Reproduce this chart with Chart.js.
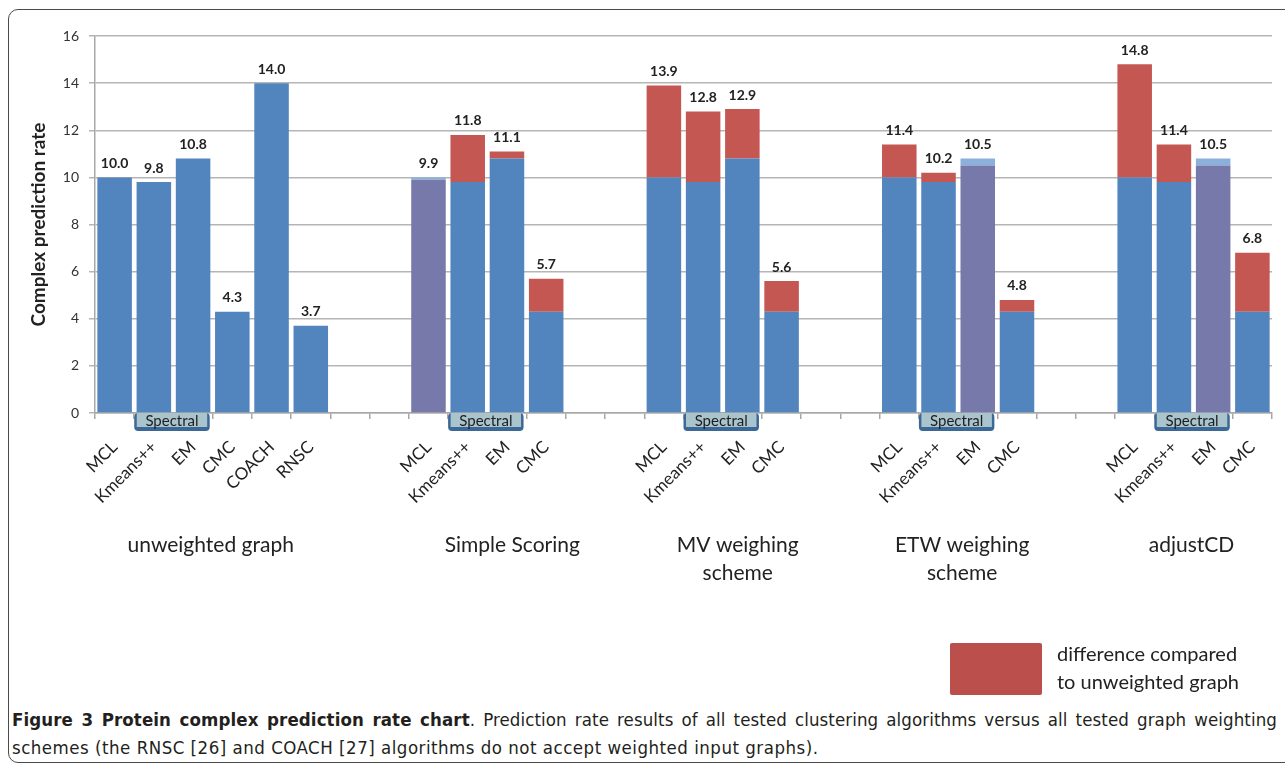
<!DOCTYPE html>
<html>
<head>
<meta charset="utf-8">
<script src="https://cdn.jsdelivr.net/npm/chart.js@4.4.1/dist/chart.umd.min.js"></script>
<style>
    body { margin: 0; background: #fff; width: 1285px; height: 767px; overflow: hidden; position: relative; }
    #moldura { position: absolute; left: 8px; top: 9px; width: 1300px; height: 752px; border: 1.5px solid #4a4a4a; border-radius: 10px; }
    #grafico { position: absolute; left: 0; top: 0; width: 1285px; height: 705px; }
    .legenda { position: absolute; left: 12px; width: 1265px; font-family: "Liberation Sans Narrow", "DejaVu Sans Condensed", sans-serif; font-stretch: condensed; font-size: 18.5px; color: #231f20; white-space: nowrap; }
    #linha1 { top: 709px; text-align: justify; text-align-last: justify; letter-spacing: 0.1px; }
    #linha2 { top: 737px; letter-spacing: 0.5px; }
</style>
</head>
<body>
<div id="moldura"></div>
<div id="grafico"><canvas id="canvasTaxa"></canvas></div>
<div class="legenda" id="linha1"><b>Figure 3 Protein complex prediction rate chart</b>. Prediction rate results of all tested clustering algorithms versus all tested graph weighting</div>
<div class="legenda" id="linha2">schemes (the RNSC [26] and COACH [27] algorithms do not accept weighted input graphs).</div>

<script>
// DADOS DO GRÁFICO
const algoritmos = [
    'MCL', 'Kmeans++', 'EM', 'CMC', 'COACH', 'RNSC', '', '',
    'MCL', 'Kmeans++', 'EM', 'CMC', '', '',
    'MCL', 'Kmeans++', 'EM', 'CMC', '', '',
    'MCL', 'Kmeans++', 'EM', 'CMC', '', '',
    'MCL', 'Kmeans++', 'EM', 'CMC'
];
// parte azul = taxa no grafo sem peso
const baseAzul = [
    10.0, 9.8, 10.8, 4.3, 14.0, 3.7, null, null,
    null, 9.8, 10.8, 4.3, null, null,
    10.0, 9.8, 10.8, 4.3, null, null,
    10.0, 9.8, null, 4.3, null, null,
    10.0, 9.8, null, 4.3
];
// parte roxa = taxa com peso quando menor que a sem peso
const menorRoxo = [
    null, null, null, null, null, null, null, null,
    9.9, null, null, null, null, null,
    null, null, null, null, null, null,
    null, null, 10.5, null, null, null,
    null, null, 10.5, null
];
// topo azul claro = perda em relação ao grafo sem peso
const perdaAzulClaro = [
    null, null, null, null, null, null, null, null,
    0.1, null, null, null, null, null,
    null, null, null, null, null, null,
    null, null, 0.3, null, null, null,
    null, null, 0.3, null
];
// parte vermelha = ganho em relação ao grafo sem peso
const ganhoVermelho = [
    null, null, null, null, null, null, null, null,
    null, 2.0, 0.3, 1.4, null, null,
    3.9, 3.0, 2.1, 1.3, null, null,
    1.4, 0.4, null, 0.5, null, null,
    4.8, 1.6, null, 2.5
];
const rotulosValor = [
    '10.0', '9.8', '10.8', '4.3', '14.0', '3.7', '', '',
    '9.9', '11.8', '11.1', '5.7', '', '',
    '13.9', '12.8', '12.9', '5.6', '', '',
    '11.4', '10.2', '10.5', '4.8', '', '',
    '14.8', '11.4', '10.5', '6.8'
];
const ticksY = [0, 2, 4, 6, 8, 10, 12, 14, 16];
const nomesGrupos = ['unweighted graph', 'Simple Scoring', ['MV weighing', 'scheme'], ['ETW weighing', 'scheme'], 'adjustCD'];
const inicioGrupos = [0, 8, 14, 20, 26];
const fimGrupos = [5, 11, 17, 23, 29];
const spectralInicio = [1, 9, 15, 21, 27];
const spectralFim = [2, 10, 16, 22, 28];
const textoLegenda = ['difference compared', 'to unweighted graph'];

const FONTE = 'Lato, "Open Sans", sans-serif';
const COR_TEXTO = '#222';

// Rótulos acima das barras
const pluginRotulos = {
    id: 'rotulos',
    afterDatasetsDraw(chart) {
        const ctx = chart.ctx;
        const x = chart.scales.x, y = chart.scales.y;
        ctx.save();
        ctx.font = `bold 14px ${FONTE}`;
        ctx.fillStyle = COR_TEXTO;
        ctx.textAlign = 'center';
        ctx.textBaseline = 'bottom';
        rotulosValor.forEach((txt, i) => {
            if (!txt) return;
            let soma = 0;
            chart.data.datasets.forEach(ds => { soma += ds.data[i] || 0; });
            ctx.fillText(txt, x.getPixelForValue(i), y.getPixelForValue(soma) - 7);
        });
        ctx.restore();
    }
};

// Caixas "Spectral", nomes dos grupos e legenda
const pluginExtras = {
    id: 'extras',
    afterDraw(chart) {
        const ctx = chart.ctx;
        const x = chart.scales.x;
        const area = chart.chartArea;
        const passo = x.getPixelForValue(1) - x.getPixelForValue(0);
        ctx.save();

        spectralInicio.forEach((ini, k) => {
            const esq = x.getPixelForValue(ini) - passo / 2;
            const dir = x.getPixelForValue(spectralFim[k]) + passo / 2 - 3;
            const topo = area.bottom;
            ctx.fillStyle = '#3b6897';
            ctx.beginPath();
            ctx.roundRect(esq, topo, dir - esq, 18, 4);
            ctx.fill();
            ctx.fillStyle = '#a9c4cd';
            ctx.fillRect(esq + 2.5, topo, dir - esq - 5, 14);
            ctx.fillStyle = '#1d1d1d';
            ctx.font = `15px ${FONTE}`;
            ctx.textAlign = 'center';
            ctx.textBaseline = 'middle';
            ctx.fillText('Spectral', (esq + dir) / 2, topo + 8);
        });

        const ajusteGrupo = [-2, 25, 15, 4, -2];
        ctx.font = `21px ${FONTE}`;
        ctx.fillStyle = COR_TEXTO;
        ctx.textAlign = 'center';
        ctx.textBaseline = 'middle';
        nomesGrupos.forEach((nome, g) => {
            const cx = (x.getPixelForValue(inicioGrupos[g]) + x.getPixelForValue(fimGrupos[g])) / 2 + ajusteGrupo[g];
            const linhas = Array.isArray(nome) ? nome : [nome];
            linhas.forEach((l, j) => ctx.fillText(l, cx, area.bottom + 132 + j * 28));
        });

        // legenda manual
        const lx = chart.width - 335, ly = area.bottom + 230;
        ctx.fillStyle = '#bb4f4c';
        ctx.beginPath();
        ctx.roundRect(lx, ly, 92, 52, 2);
        ctx.fill();
        ctx.fillStyle = COR_TEXTO;
        ctx.font = `20px ${FONTE}`;
        ctx.textAlign = 'left';
        textoLegenda.forEach((l, j) => ctx.fillText(l, lx + 107, ly + 12 + j * 28));
        ctx.restore();
    }
};

document.addEventListener("DOMContentLoaded", () => {
    const ctx = document.getElementById('canvasTaxa').getContext('2d');
    new Chart(ctx, {
        type: 'bar',
        data: {
            labels: algoritmos,
            datasets: [
                { label: 'weighted (lower)', data: menorRoxo, backgroundColor: '#7679a9' },
                { label: 'unweighted graph', data: baseAzul, backgroundColor: '#5284be' },
                { label: 'loss', data: perdaAzulClaro, backgroundColor: '#8cb0dc' },
                { label: 'difference compared to unweighted graph', data: ganhoVermelho, backgroundColor: '#c55753' }
            ]
        },
        options: {
            responsive: true,
            maintainAspectRatio: false,
            animation: false,
            devicePixelRatio: 1,
            layout: { padding: { left: 0, right: 11, top: 36, bottom: 0 } },
            datasets: { bar: { barPercentage: 0.88, categoryPercentage: 1.0 } },
            plugins: {
                legend: { display: false },
                tooltip: { enabled: false }
            },
            scales: {
                x: {
                    stacked: true,
                    afterFit: s => { s.height = 292; },
                    grid: { drawOnChartArea: false, offset: true, tickLength: 6, color: '#a8a8a8', lineWidth: 1.5 },
                    border: { color: '#a8a8a8', width: 1.5 },
                    ticks: {
                        autoSkip: false, maxRotation: 45, minRotation: 45, padding: 18,
                        color: COR_TEXTO, font: { family: FONTE, size: 17 }
                    }
                },
                y: {
                    stacked: true,
                    min: 0, max: 16,
                    afterFit: s => { s.width = 95; },
                    afterBuildTicks: s => { s.ticks = ticksY.map(v => ({ value: v })); },
                    grid: { color: '#b5b5b5', lineWidth: 1.5, tickLength: 6 },
                    border: { color: '#a8a8a8', width: 1.5 },
                    ticks: { padding: 10, color: '#333', font: { family: FONTE, size: 14 } },
                    title: {
                        display: true, text: 'Complex prediction rate', color: COR_TEXTO,
                        font: { family: FONTE, size: 19, weight: 'bold' }, padding: { top: 27, bottom: 0 }
                    }
                }
            }
        },
        plugins: [pluginRotulos, pluginExtras]
    });
});
</script>
</body>
</html>
